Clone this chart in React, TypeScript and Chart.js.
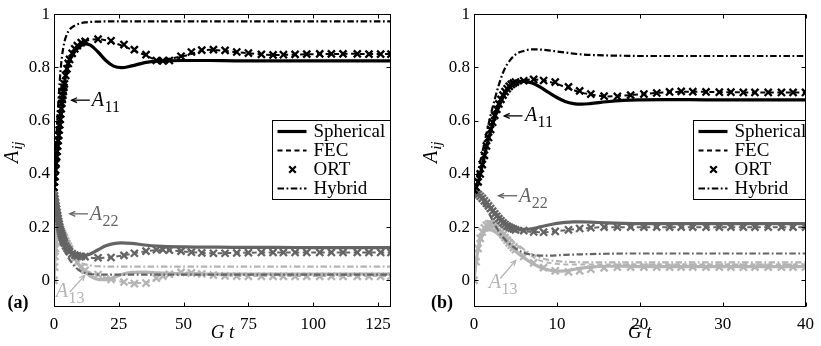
import React, { useEffect, useRef } from 'react';
import { Chart, registerables } from 'chart.js';

Chart.register(...registerables);

const FONT = '"Liberation Serif", "Times New Roman", serif';

const models = ['Spherical', 'FEC', 'ORT', 'Hybrid'];
const componentColors = ['#000000', '#646464', '#b4b4b4'];
const yTicks = [0, 0.2, 0.4, 0.6, 0.8, 1];
const yTickLabels = ['0', '0.2', '0.4', '0.6', '0.8', '1'];

// ---------- panel (a) ----------
const xTicksA = [0, 25, 50, 75, 100, 125];
const xTickLabelsA = ['0', '25', '50', '75', '100', '125'];
const tCurveA = [0, 0.5, 1, 1.5, 2, 2.5, 3, 4, 5, 6, 8, 10, 12, 14, 17, 20, 23, 26, 30, 35, 40, 50, 60, 70, 85, 100, 115, 130];
const sphA11a = [0.35, 0.41, 0.46, 0.51, 0.555, 0.6, 0.645, 0.74, 0.795, 0.826, 0.86, 0.879, 0.888, 0.884, 0.858, 0.826, 0.805, 0.799, 0.806, 0.818, 0.824, 0.826, 0.826, 0.825, 0.825, 0.825, 0.825, 0.825];
const fecA11a = [0.35, 0.41, 0.46, 0.51, 0.56, 0.605, 0.65, 0.745, 0.8, 0.832, 0.868, 0.889, 0.898, 0.904, 0.906, 0.902, 0.893, 0.883, 0.867, 0.847, 0.829, 0.843, 0.866, 0.858, 0.847, 0.85, 0.851, 0.85];
const hybA11a = [0.35, 0.45, 0.55, 0.64, 0.72, 0.785, 0.835, 0.895, 0.925, 0.942, 0.957, 0.965, 0.969, 0.971, 0.972, 0.973, 0.973, 0.973, 0.973, 0.973, 0.973, 0.973, 0.973, 0.973, 0.973, 0.973, 0.973, 0.973];
const sphA22a = [0.33, 0.3, 0.265, 0.232, 0.205, 0.183, 0.165, 0.14, 0.123, 0.112, 0.1, 0.095, 0.094, 0.099, 0.115, 0.13, 0.138, 0.141, 0.139, 0.133, 0.129, 0.126, 0.125, 0.124, 0.124, 0.123, 0.123, 0.123];
const fecA22a = [0.33, 0.3, 0.265, 0.232, 0.205, 0.183, 0.165, 0.138, 0.118, 0.105, 0.093, 0.089, 0.087, 0.085, 0.084, 0.085, 0.088, 0.093, 0.1, 0.109, 0.114, 0.109, 0.102, 0.103, 0.105, 0.105, 0.105, 0.105];
const hybA22a = [0.33, 0.3, 0.27, 0.235, 0.205, 0.178, 0.155, 0.12, 0.095, 0.078, 0.052, 0.036, 0.028, 0.024, 0.022, 0.022, 0.022, 0.022, 0.022, 0.022, 0.022, 0.022, 0.022, 0.022, 0.022, 0.022, 0.022, 0.022];
const sphA13a = [0, 0.1, 0.16, 0.183, 0.19, 0.188, 0.18, 0.16, 0.14, 0.12, 0.083, 0.053, 0.032, 0.016, 0.004, 0.003, 0.01, 0.022, 0.03, 0.031, 0.028, 0.025, 0.024, 0.024, 0.024, 0.024, 0.024, 0.024];
const fecA13a = [0, 0.1, 0.16, 0.183, 0.19, 0.188, 0.18, 0.158, 0.136, 0.115, 0.08, 0.055, 0.04, 0.03, 0.02, 0.01, 0.002, -0.005, -0.01, -0.01, 0.008, 0.03, 0.022, 0.017, 0.016, 0.016, 0.016, 0.016];
const hybA13a = [0, 0.11, 0.17, 0.19, 0.188, 0.178, 0.165, 0.14, 0.12, 0.103, 0.08, 0.067, 0.06, 0.056, 0.053, 0.052, 0.052, 0.052, 0.052, 0.052, 0.052, 0.052, 0.052, 0.052, 0.052, 0.052, 0.052, 0.052];
const tOrtA = [0, 0.2, 0.4, 0.6, 0.8, 1, 1.2, 1.4, 1.6, 1.8, 2, 2.2, 2.4, 2.6, 2.8, 3, 3.2, 3.4, 3.6, 3.8, 4, 4.5, 5, 5.5, 6, 7, 8, 9, 10.5, 12, 17, 22, 27, 31, 35.5, 39.5, 42, 44.5, 49, 53, 57, 61.5, 66, 70.5, 75, 80, 84.5, 88.5, 93, 97.5, 102.5, 107, 111.5, 117, 121.5, 126, 130];
const ortA11a = [0.35, 0.37, 0.39, 0.415, 0.44, 0.465, 0.485, 0.505, 0.525, 0.545, 0.565, 0.585, 0.605, 0.625, 0.645, 0.665, 0.68, 0.695, 0.71, 0.725, 0.738, 0.77, 0.795, 0.815, 0.83, 0.853, 0.87, 0.882, 0.893, 0.898, 0.906, 0.9, 0.886, 0.867, 0.848, 0.826, 0.825, 0.826, 0.842, 0.858, 0.865, 0.867, 0.864, 0.858, 0.854, 0.849, 0.847, 0.848, 0.849, 0.85, 0.851, 0.851, 0.851, 0.851, 0.85, 0.85, 0.85];
const ortA22a = [0.33, 0.318, 0.305, 0.292, 0.279, 0.267, 0.255, 0.243, 0.232, 0.221, 0.211, 0.201, 0.192, 0.184, 0.176, 0.169, 0.162, 0.156, 0.15, 0.145, 0.14, 0.13, 0.121, 0.114, 0.108, 0.1, 0.095, 0.092, 0.09, 0.089, 0.085, 0.086, 0.094, 0.102, 0.11, 0.115, 0.115, 0.114, 0.11, 0.106, 0.103, 0.102, 0.102, 0.103, 0.104, 0.105, 0.105, 0.105, 0.105, 0.105, 0.105, 0.105, 0.105, 0.105, 0.105, 0.105, 0.105];
const ortA13a = [0, 0.05, 0.09, 0.12, 0.145, 0.162, 0.175, 0.183, 0.188, 0.19, 0.19, 0.189, 0.187, 0.184, 0.181, 0.178, 0.174, 0.17, 0.166, 0.162, 0.158, 0.148, 0.138, 0.128, 0.118, 0.1, 0.083, 0.068, 0.05, 0.038, 0.022, 0.004, -0.006, -0.012, -0.01, 0.008, 0.016, 0.023, 0.03, 0.028, 0.024, 0.02, 0.017, 0.016, 0.015, 0.015, 0.015, 0.015, 0.015, 0.015, 0.015, 0.015, 0.015, 0.015, 0.015, 0.015, 0.015];

// ---------- panel (b) ----------
const xTicksB = [0, 10, 20, 30, 40];
const xTickLabelsB = ['0', '10', '20', '30', '40'];
const tCurveB = [0, 0.25, 0.5, 0.75, 1, 1.5, 2, 2.5, 3, 3.5, 4, 5, 6, 7, 8, 9, 10, 11, 12, 13, 14, 16, 18, 20, 23, 26, 30, 35, 40];
const sphA11b = [0.34, 0.35, 0.37, 0.4, 0.43, 0.5, 0.56, 0.612, 0.652, 0.688, 0.714, 0.74, 0.748, 0.742, 0.726, 0.706, 0.687, 0.672, 0.664, 0.662, 0.664, 0.671, 0.676, 0.678, 0.679, 0.679, 0.678, 0.678, 0.678];
const fecA11b = [0.34, 0.35, 0.37, 0.4, 0.435, 0.505, 0.567, 0.62, 0.663, 0.696, 0.72, 0.745, 0.751, 0.755, 0.753, 0.747, 0.738, 0.726, 0.715, 0.705, 0.699, 0.691, 0.694, 0.699, 0.706, 0.709, 0.707, 0.706, 0.706];
const hybA11b = [0.34, 0.375, 0.41, 0.445, 0.48, 0.55, 0.62, 0.68, 0.735, 0.78, 0.812, 0.848, 0.862, 0.868, 0.867, 0.864, 0.86, 0.856, 0.852, 0.849, 0.847, 0.845, 0.844, 0.843, 0.843, 0.843, 0.843, 0.843, 0.843];
const sphA22b = [0.33, 0.328, 0.323, 0.317, 0.31, 0.293, 0.273, 0.255, 0.238, 0.222, 0.21, 0.196, 0.192, 0.194, 0.201, 0.208, 0.214, 0.218, 0.22, 0.22, 0.219, 0.216, 0.214, 0.213, 0.213, 0.213, 0.213, 0.213, 0.213];
const fecA22b = [0.33, 0.328, 0.323, 0.316, 0.308, 0.29, 0.27, 0.25, 0.232, 0.216, 0.204, 0.19, 0.186, 0.182, 0.181, 0.182, 0.185, 0.188, 0.192, 0.195, 0.197, 0.2, 0.2, 0.2, 0.2, 0.2, 0.2, 0.2, 0.2];
const hybA22b = [0.33, 0.325, 0.318, 0.308, 0.297, 0.27, 0.24, 0.21, 0.183, 0.162, 0.145, 0.12, 0.104, 0.096, 0.093, 0.093, 0.094, 0.096, 0.097, 0.098, 0.099, 0.1, 0.101, 0.101, 0.101, 0.101, 0.101, 0.101, 0.101];
const sphA13b = [0, 0.07, 0.12, 0.155, 0.175, 0.19, 0.19, 0.183, 0.172, 0.157, 0.142, 0.11, 0.085, 0.065, 0.049, 0.039, 0.035, 0.036, 0.041, 0.046, 0.05, 0.053, 0.053, 0.052, 0.052, 0.052, 0.052, 0.052, 0.052];
const fecA13b = [0, 0.07, 0.12, 0.158, 0.18, 0.2, 0.205, 0.2, 0.19, 0.178, 0.165, 0.138, 0.112, 0.09, 0.074, 0.066, 0.062, 0.06, 0.06, 0.06, 0.06, 0.06, 0.06, 0.06, 0.06, 0.06, 0.06, 0.06, 0.06];
const hybA13b = [0, 0.06, 0.105, 0.14, 0.165, 0.19, 0.2, 0.2, 0.192, 0.18, 0.166, 0.14, 0.117, 0.098, 0.085, 0.077, 0.072, 0.07, 0.069, 0.068, 0.068, 0.068, 0.068, 0.068, 0.068, 0.068, 0.068, 0.068, 0.068];
const tOrtB = [0, 0.25, 0.5, 0.75, 1, 1.25, 1.5, 1.75, 2, 2.25, 2.5, 2.75, 3, 3.25, 3.5, 3.75, 4, 4.25, 4.5, 4.75, 5, 6, 7.2, 8.4, 9.8, 11.4, 12.75, 14.1, 15.7, 17.3, 18.9, 20.5, 22.05, 23.6, 25, 26.4, 28, 29.6, 31, 32.5, 33.9, 35.5, 37.1, 38.5, 40];
const ortA11b = [0.34, 0.35, 0.37, 0.4, 0.435, 0.47, 0.505, 0.537, 0.567, 0.594, 0.62, 0.643, 0.663, 0.68, 0.696, 0.709, 0.72, 0.729, 0.736, 0.741, 0.745, 0.75, 0.755, 0.751, 0.745, 0.727, 0.712, 0.7, 0.692, 0.691, 0.696, 0.7, 0.704, 0.708, 0.71, 0.709, 0.708, 0.707, 0.707, 0.706, 0.706, 0.706, 0.706, 0.706, 0.706];
const ortA22b = [0.33, 0.328, 0.323, 0.316, 0.308, 0.299, 0.29, 0.28, 0.27, 0.26, 0.25, 0.241, 0.232, 0.224, 0.216, 0.21, 0.204, 0.2, 0.196, 0.193, 0.19, 0.187, 0.182, 0.181, 0.184, 0.19, 0.195, 0.198, 0.2, 0.2, 0.2, 0.2, 0.2, 0.2, 0.2, 0.2, 0.2, 0.2, 0.2, 0.2, 0.2, 0.2, 0.2, 0.2, 0.2];
const ortA13b = [0, 0.07, 0.12, 0.158, 0.182, 0.197, 0.207, 0.212, 0.213, 0.211, 0.206, 0.199, 0.19, 0.181, 0.171, 0.161, 0.151, 0.141, 0.132, 0.123, 0.115, 0.09, 0.066, 0.048, 0.036, 0.032, 0.036, 0.042, 0.047, 0.05, 0.05, 0.05, 0.05, 0.05, 0.05, 0.05, 0.05, 0.05, 0.05, 0.05, 0.05, 0.05, 0.05, 0.05, 0.05];

// annotations (data coordinates)
const annotsA = [
  { main: 'A', sub: '11', c: 0, tx: 14.6, ty: 0.655, x1: 13.8, y1: 0.677, x2: 6.8, y2: 0.677 },
  { main: 'A', sub: '22', c: 1, tx: 13.8, ty: 0.228, x1: 13.1, y1: 0.25, x2: 6.1, y2: 0.25 },
  { main: 'A', sub: '13', c: 2, tx: 0.66, ty: -0.0625, x1: 6.06, y1: -0.044, x2: 11.85, y2: 0.019 },
];
const annotsB = [
  { main: 'A', sub: '11', c: 0, tx: 6.14, ty: 0.6, x1: 5.85, y1: 0.618, x2: 3.65, y2: 0.618 },
  { main: 'A', sub: '22', c: 1, tx: 5.43, ty: 0.293, x1: 5.2, y1: 0.318, x2: 2.97, y2: 0.318 },
  { main: 'A', sub: '13', c: 2, tx: 1.78, ty: -0.03, x1: 3.17, y1: 0.007, x2: 5.04, y2: 0.075 },
];

const DASH_FEC = [5, 3.5];
const DASH_HYB = [6.5, 2.5, 1.8, 2.5];

function pts(ts: number[], vs: number[]) {
  return ts.map((t, i) => ({ x: t, y: vs[i] }));
}

function buildDatasets(tc: number[], to: number[], comps: any[]) {
  const ds: any[] = [];
  comps.forEach((cp, ci) => {
    const color = componentColors[ci];
    ds.push({ label: models[2], data: pts(to, cp.ort), showLine: false, pointStyle: 'crossRot', pointRadius: 5, pointBorderWidth: 2.3, pointBorderColor: color, pointBackgroundColor: color, borderColor: color });
    ds.push({ label: models[0], data: pts(tc, cp.sph), borderColor: color, borderWidth: 3.2, pointRadius: 0, cubicInterpolationMode: 'monotone', fill: false });
    ds.push({ label: models[1], data: pts(tc, cp.fec), borderColor: color, borderWidth: 2, borderDash: DASH_FEC, pointRadius: 0, cubicInterpolationMode: 'monotone', fill: false });
    ds.push({ label: models[3], data: pts(tc, cp.hyb), borderColor: color, borderWidth: 2.2, borderDash: DASH_HYB, pointRadius: 0, cubicInterpolationMode: 'monotone', fill: false });
  });
  return ds;
}

const panels = [
  {
    left: 0, width: 410, yWidth: 54, padRight: 19, xMax: 130, xTicks: xTicksA, xTickLabels: xTickLabelsA,
    label: '(a)', labelX: 18, titleX: 18, legendLeft: 272, annots: annotsA,
    datasets: buildDatasets(tCurveA, tOrtA, [
      { sph: sphA11a, fec: fecA11a, hyb: hybA11a, ort: ortA11a },
      { sph: sphA22a, fec: fecA22a, hyb: hybA22a, ort: ortA22a },
      { sph: sphA13a, fec: fecA13a, hyb: hybA13a, ort: ortA13a },
    ]),
  },
  {
    left: 410, width: 411, yWidth: 64, padRight: 10, xMax: 40, xTicks: xTicksB, xTickLabels: xTickLabelsB,
    label: '(b)', labelX: 32, titleX: 27, legendLeft: 283, annots: annotsB,
    datasets: buildDatasets(tCurveB, tOrtB, [
      { sph: sphA11b, fec: fecA11b, hyb: hybA11b, ort: ortA11b },
      { sph: sphA22b, fec: fecA22b, hyb: hybA22b, ort: ortA22b },
      { sph: sphA13b, fec: fecA13b, hyb: hybA13b, ort: ortA13b },
    ]),
  },
];

function makeDecor(p: any) {
  return {
    id: 'decor',
    afterDraw(chart: any) {
      const { ctx, chartArea: ca, scales } = chart;
      const xs = scales.x;
      const ys = scales.y;
      ctx.save();
      ctx.setLineDash([]);
      // annotations
      for (const a of p.annots) {
        const col = componentColors[a.c];
        ctx.strokeStyle = col;
        ctx.fillStyle = col;
        ctx.lineWidth = 1.3;
        const x1 = xs.getPixelForValue(a.x1), y1 = ys.getPixelForValue(a.y1);
        const x2 = xs.getPixelForValue(a.x2), y2 = ys.getPixelForValue(a.y2);
        ctx.beginPath();
        ctx.moveTo(x1, y1);
        ctx.lineTo(x2, y2);
        ctx.stroke();
        const ang = Math.atan2(y2 - y1, x2 - x1);
        const hl = 6, hw = 0.42;
        ctx.beginPath();
        ctx.moveTo(x2 - hl * Math.cos(ang - hw), y2 - hl * Math.sin(ang - hw));
        ctx.lineTo(x2, y2);
        ctx.lineTo(x2 - hl * Math.cos(ang + hw), y2 - hl * Math.sin(ang + hw));
        ctx.stroke();
        const tx = xs.getPixelForValue(a.tx), ty = ys.getPixelForValue(a.ty);
        ctx.textAlign = 'left';
        ctx.textBaseline = 'alphabetic';
        ctx.font = `italic 20px ${FONT}`;
        ctx.fillText(a.main, tx, ty);
        const w = ctx.measureText(a.main).width;
        ctx.font = `16px ${FONT}`;
        ctx.fillText(a.sub, tx + w + 0.5, ty + 6);
      }
      // box
      ctx.strokeStyle = '#000';
      ctx.lineWidth = 1;
      const L = Math.round(ca.left) + 0.5, R = Math.round(ca.right) - 0.5;
      const T = Math.round(ca.top) + 0.5, B = Math.round(ca.bottom) - 0.5;
      ctx.strokeRect(L, T, R - L, B - T);
      const tl = 4;
      ctx.beginPath();
      xs.ticks.forEach((t: any) => {
        const px = Math.round(xs.getPixelForValue(t.value)) + 0.5;
        ctx.moveTo(px, B); ctx.lineTo(px, B - tl);
        ctx.moveTo(px, T); ctx.lineTo(px, T + tl);
      });
      ys.ticks.forEach((t: any) => {
        const py = Math.round(ys.getPixelForValue(t.value)) + 0.5;
        ctx.moveTo(L, py); ctx.lineTo(L + tl, py);
        ctx.moveTo(R, py); ctx.lineTo(R - tl, py);
      });
      ctx.stroke();
      // legend
      const lx = p.legendLeft + 0.5, ltop = 120.5, lw = R - lx, lh = 79;
      ctx.fillStyle = '#fff';
      ctx.fillRect(lx, ltop, lw, lh);
      ctx.strokeStyle = '#000';
      ctx.strokeRect(lx, ltop, lw, lh);
      models.forEach((m, i) => {
        const cy = ltop + 11 + i * 19;
        ctx.strokeStyle = '#000';
        if (m === 'ORT') {
          ctx.setLineDash([]);
          ctx.lineWidth = 2.2;
          const cx = lx + 20, r = 3.3;
          ctx.beginPath();
          ctx.moveTo(cx - r, cy - r); ctx.lineTo(cx + r, cy + r);
          ctx.moveTo(cx - r, cy + r); ctx.lineTo(cx + r, cy - r);
          ctx.stroke();
        } else {
          ctx.lineWidth = m === 'Spherical' ? 3.2 : 1.8;
          ctx.setLineDash(m === 'FEC' ? DASH_FEC : m === 'Hybrid' ? DASH_HYB : []);
          ctx.beginPath();
          ctx.moveTo(lx + 5, cy);
          ctx.lineTo(lx + 34, cy);
          ctx.stroke();
        }
        ctx.setLineDash([]);
        ctx.fillStyle = '#000';
        ctx.font = `19px ${FONT}`;
        ctx.textAlign = 'left';
        ctx.textBaseline = 'middle';
        ctx.fillText(m, lx + 41, cy + 1);
      });
      // y title A_ij
      ctx.save();
      ctx.translate(p.titleX, 163);
      ctx.rotate(-Math.PI / 2);
      ctx.fillStyle = '#000';
      ctx.textAlign = 'left';
      ctx.textBaseline = 'alphabetic';
      ctx.font = `italic 20px ${FONT}`;
      ctx.fillText('A', 0, 0);
      const aw = ctx.measureText('A').width;
      ctx.font = `italic 15px ${FONT}`;
      ctx.fillText('ij', aw + 1, 4);
      ctx.restore();
      // panel label
      ctx.fillStyle = '#000';
      ctx.font = `bold 18px ${FONT}`;
      ctx.textAlign = 'center';
      ctx.textBaseline = 'middle';
      ctx.fillText(p.label, p.labelX, 303);
      ctx.restore();
    },
  };
}

function Panel({ p }: { p: any }) {
  const ref = useRef<HTMLCanvasElement>(null);
  useEffect(() => {
    const chart = new Chart(ref.current as HTMLCanvasElement, {
      type: 'line',
      data: { datasets: p.datasets },
      options: {
        responsive: false,
        animation: false,
        devicePixelRatio: 1,
        layout: { padding: { top: 13, right: p.padRight, bottom: 0, left: 0 } },
        plugins: { legend: { display: false }, tooltip: { enabled: false } },
        scales: {
          x: {
            type: 'linear',
            min: 0,
            max: p.xMax,
            grid: { display: false, drawTicks: false },
            border: { display: false },
            afterBuildTicks: (s: any) => { s.ticks = p.xTicks.map((v: number) => ({ value: v })); },
            afterFit: (s: any) => { s.height = 39; },
            ticks: {
              color: '#000', autoSkip: false, maxRotation: 0, padding: 7,
              font: { family: FONT, size: 17 },
              callback: (_v: any, i: number) => p.xTickLabels[i],
            },
            title: {
              display: true, text: 'G t', color: '#000',
              font: { family: FONT, size: 19, style: 'italic' },
              padding: { top: 0, bottom: 2 },
            },
          },
          y: {
            type: 'linear',
            min: -0.1,
            max: 1,
            grid: { display: false, drawTicks: false },
            border: { display: false },
            afterBuildTicks: (s: any) => { s.ticks = yTicks.map((v) => ({ value: v })); },
            afterFit: (s: any) => { s.width = p.yWidth; },
            ticks: {
              color: '#000', autoSkip: false, padding: 4,
              font: { family: FONT, size: 17 },
              callback: (_v: any, i: number) => yTickLabels[i],
            },
          },
        },
      } as any,
      plugins: [makeDecor(p)],
    });
    return () => chart.destroy();
  }, []);
  return (
    <canvas
      ref={ref}
      width={p.width}
      height={346}
      style={{ position: 'absolute', left: p.left, top: 0, width: p.width, height: 346 }}
    />
  );
}

export default function App() {
  return (
    <div style={{ position: 'absolute', left: 0, top: 0, width: 821, height: 346, background: '#fff', overflow: 'hidden' }}>
      {panels.map((p, i) => (
        <Panel key={i} p={p} />
      ))}
    </div>
  );
}
